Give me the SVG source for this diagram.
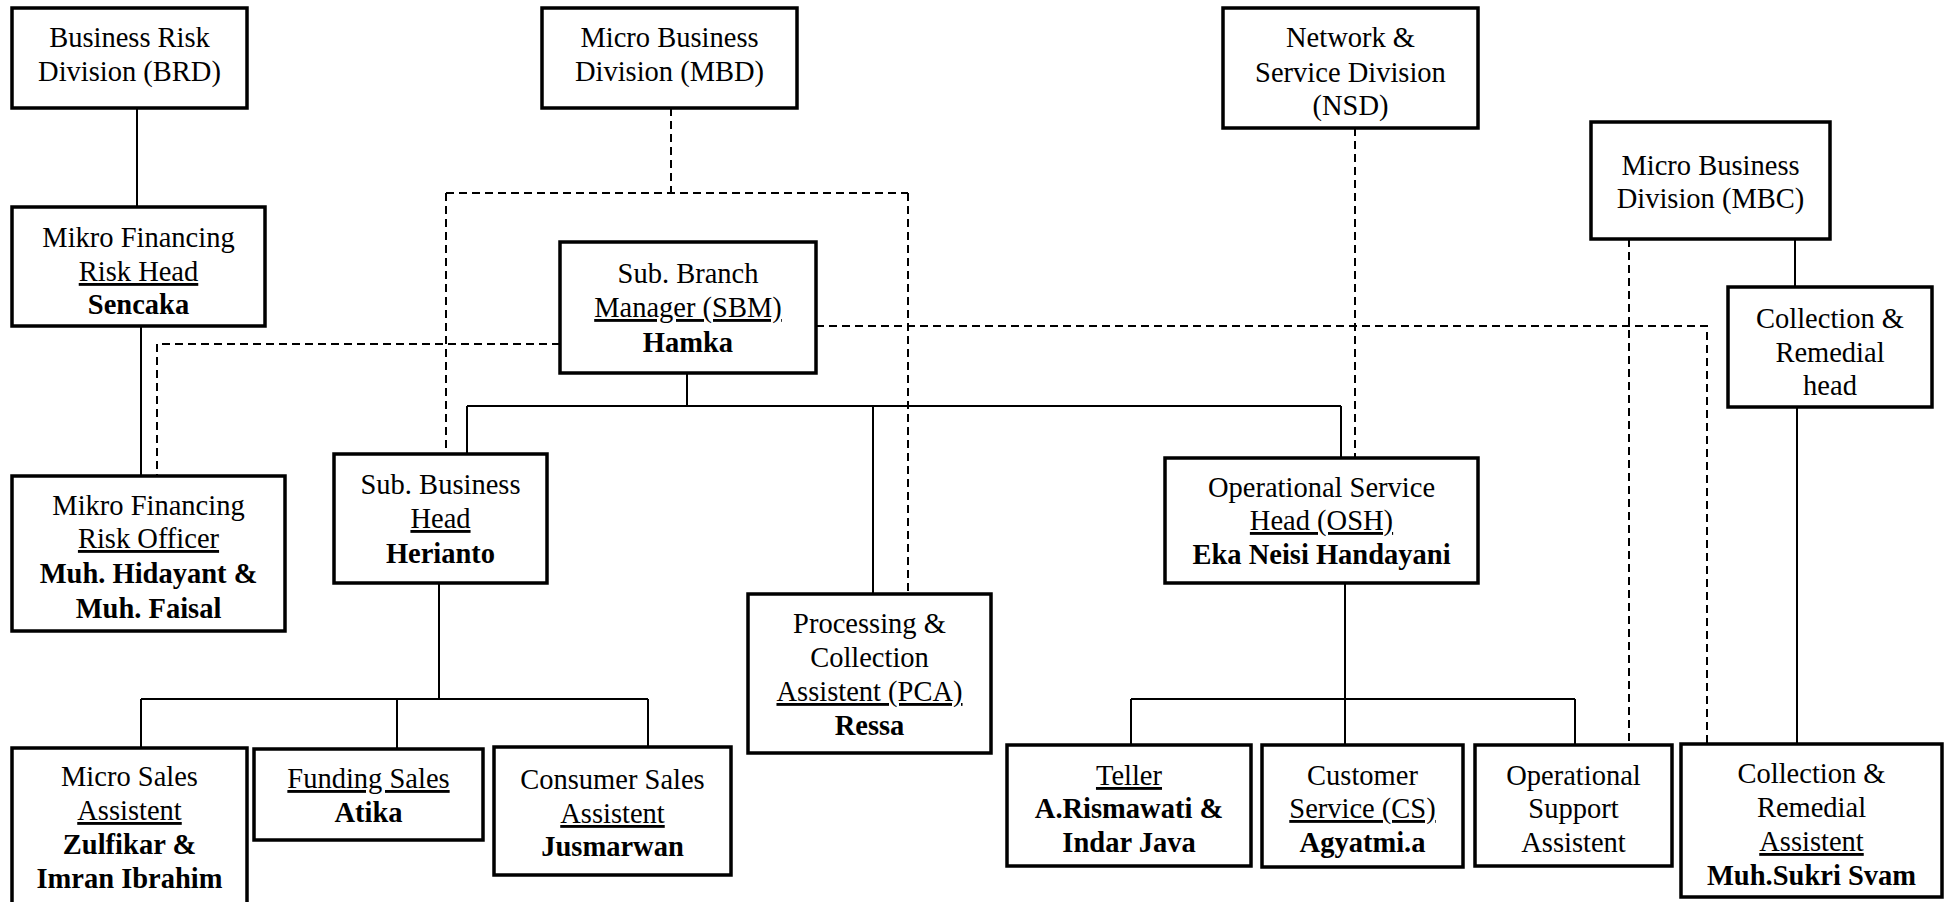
<svg xmlns="http://www.w3.org/2000/svg" width="1951" height="902" viewBox="0 0 1951 902">
<style>
.box{fill:#fff;stroke:#000;stroke-width:3.5}
.c{fill:none;stroke:#000;stroke-width:2}
.d{fill:none;stroke:#000;stroke-width:2;stroke-dasharray:8 5}
text{font-family:"Liberation Serif","Times New Roman",serif;font-size:28.5px;text-anchor:middle;fill:#000}
.b{font-weight:bold}
.u{text-decoration:underline}
</style>
<rect width="1951" height="902" fill="#fff"/>
<g id="connectors">
<path class="c" d="M137 108V207M141 326V476M687 373V406M467 406H1341M467 406V454M873 406V594M1341 406V458M439 583V699M141 699H648M141 699V748M397 699V749M648 699V747M1345 583V745M1131 699H1575M1131 699V745M1575 699V745M1795 239V287M1797 407V744"/>
<path class="d" d="M671 108V193M446 193H908M446 193V454M908 193V594M560 344H157V476M816 326H1707V744M1355 128V458M1629 239V745"/>
</g>
<g id="brd"><rect class="box" x="12" y="8" width="235" height="100"/>
<text x="129.5" y="47">Business Risk</text><text x="129.5" y="81">Division (BRD)</text></g>
<g id="mbd"><rect class="box" x="542" y="8" width="255" height="100"/>
<text x="669.5" y="47">Micro Business</text><text x="669.5" y="81">Division (MBD)</text></g>
<g id="nsd"><rect class="box" x="1223" y="8" width="255" height="120"/>
<text x="1350.5" y="47">Network &amp;</text><text x="1350.5" y="82">Service Division</text><text x="1350.5" y="115">(NSD)</text></g>
<g id="mbc"><rect class="box" x="1591" y="122" width="239" height="117"/>
<text x="1710.5" y="175">Micro Business</text><text x="1710.5" y="208">Division (MBC)</text></g>
<g id="mfrh"><rect class="box" x="12" y="207" width="253" height="119"/>
<text x="138.5" y="247">Mikro Financing</text><text x="138.5" y="281" class="u">Risk Head</text><text x="138.5" y="314" class="b">Sencaka</text></g>
<g id="sbm"><rect class="box" x="560" y="242" width="256" height="131"/>
<text x="688" y="283">Sub. Branch</text><text x="688" y="317" class="u">Manager (SBM)</text><text x="688" y="352" class="b">Hamka</text></g>
<g id="crh"><rect class="box" x="1728" y="287" width="204" height="120"/>
<text x="1830" y="328">Collection &amp;</text><text x="1830" y="362">Remedial</text><text x="1830" y="395">head</text></g>
<g id="mfro"><rect class="box" x="12" y="476" width="273" height="155"/>
<text x="148.5" y="515">Mikro Financing</text><text x="148.5" y="548" class="u">Risk Officer</text><text x="148.5" y="583" class="b">Muh. Hidayant &amp;</text><text x="148.5" y="618" class="b">Muh. Faisal</text></g>
<g id="sbh"><rect class="box" x="334" y="454" width="213" height="129"/>
<text x="440.5" y="494">Sub. Business</text><text x="440.5" y="528" class="u">Head</text><text x="440.5" y="563" class="b">Herianto</text></g>
<g id="osh"><rect class="box" x="1165" y="458" width="313" height="125"/>
<text x="1321.5" y="497">Operational Service</text><text x="1321.5" y="530" class="u">Head (OSH)</text><text x="1321.5" y="564" class="b">Eka Neisi Handayani</text></g>
<g id="pca"><rect class="box" x="748" y="594" width="243" height="159"/>
<text x="869.5" y="633">Processing &amp;</text><text x="869.5" y="667">Collection</text><text x="869.5" y="701" class="u">Assistent (PCA)</text><text x="869.5" y="735" class="b">Ressa</text></g>
<g id="microsales"><rect class="box" x="12" y="748" width="235" height="162"/>
<text x="129.5" y="786">Micro Sales</text><text x="129.5" y="820" class="u">Assistent</text><text x="129.5" y="854" class="b">Zulfikar &amp;</text><text x="129.5" y="888" class="b">Imran Ibrahim</text></g>
<g id="funding"><rect class="box" x="254" y="749" width="229" height="91"/>
<text x="368.5" y="788" class="u">Funding Sales</text><text x="368.5" y="822" class="b">Atika</text></g>
<g id="consumer"><rect class="box" x="494" y="747" width="237" height="128"/>
<text x="612.5" y="789">Consumer Sales</text><text x="612.5" y="823" class="u">Assistent</text><text x="612.5" y="856" class="b">Jusmarwan</text></g>
<g id="teller"><rect class="box" x="1007" y="745" width="244" height="121"/>
<text x="1129" y="785" class="u">Teller</text><text x="1129" y="818" class="b">A.Rismawati &amp;</text><text x="1129" y="852" class="b">Indar Java</text></g>
<g id="cs"><rect class="box" x="1262" y="745" width="201" height="122"/>
<text x="1362.5" y="785">Customer</text><text x="1362.5" y="818" class="u">Service (CS)</text><text x="1362.5" y="852" class="b">Agyatmi.a</text></g>
<g id="osa"><rect class="box" x="1475" y="745" width="197" height="121"/>
<text x="1573.5" y="785">Operational</text><text x="1573.5" y="818">Support</text><text x="1573.5" y="852">Assistent</text></g>
<g id="cra"><rect class="box" x="1681" y="744" width="261" height="153"/>
<text x="1811.5" y="783">Collection &amp;</text><text x="1811.5" y="817">Remedial</text><text x="1811.5" y="851" class="u">Assistent</text><text x="1811.5" y="885" class="b">Muh.Sukri Svam</text></g>
</svg>
